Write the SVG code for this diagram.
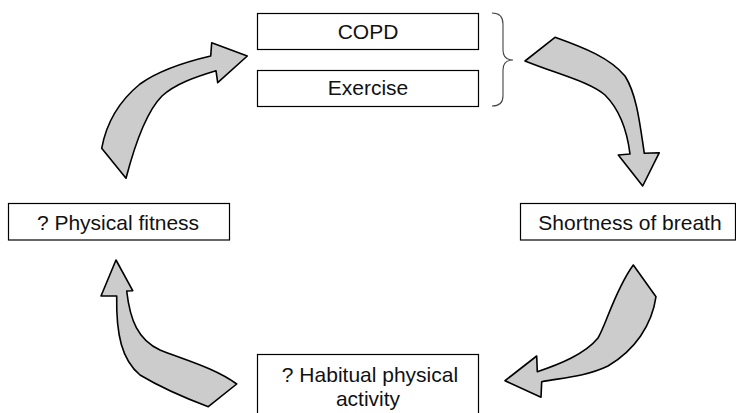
<svg xmlns="http://www.w3.org/2000/svg" width="736" height="413" viewBox="0 0 736 413">
<style>
.box{fill:#fff;stroke:#000;stroke-width:1.2}
.lbl{font-family:"Liberation Sans",Arial,Helvetica,sans-serif;font-size:21px;fill:#111;text-anchor:middle}
.arr{fill:#cccccc;stroke:#000;stroke-width:1.6;stroke-linejoin:round}
.brace{fill:none;stroke:#444;stroke-width:1.1}
</style>
<rect width="736" height="413" fill="#fff"/>
<g id="copd"><rect class="box" x="257.5" y="13.5" width="221" height="36"/><text class="lbl" x="368" y="39">COPD</text></g>
<g id="exercise"><rect class="box" x="257.5" y="70.5" width="221" height="36"/><text class="lbl" x="368" y="95">Exercise</text></g>
<g id="breath"><rect class="box" x="520.5" y="203.5" width="215" height="36.5"/><text class="lbl" x="630" y="229.5">Shortness of breath</text></g>
<g id="fitness"><rect class="box" x="8.5" y="203.5" width="221" height="36.5"/><text class="lbl" x="118" y="229.5">? Physical fitness</text></g>
<g id="habitual"><rect class="box" x="257.5" y="354.5" width="221" height="64"/><text class="lbl" x="370" y="382">? Habitual physical</text><text class="lbl" x="368" y="406">activity</text></g>
<g id="connectors">
<path class="brace" d="M492,13 Q503,13 503,24 L503,50 Q503,60 513,60 Q503,60 503,70 L503,96 Q503,106 492,106"/>
<path class="arr" d="M101.7,148.3 C106,125 118,102 140,84 C158,71 185,62 210.7,56 L211.7,42.7 L247.3,56 L217.7,82.7 L216,70.7 C195,77 175,84 162,96 C148,110 136,140 126,178.3 Z"/>
<path class="arr" d="M525,61 L555,37.3 C585,48 610,58 625,76 C637,95 640,125 644.3,153.3 L659.3,152.7 L642.7,186 L618.3,155 L630,154 C627,130 620,110 605,95 C590,82 560,75 525,61 Z"/>
<path class="arr" d="M633.3,265 L656,296.7 C652,325 635,350 608,366 C585,377 560,378 541.7,381.7 L541,397.3 L505,380.7 L536.7,356 L537.3,371.7 C560,364 585,354 598,338 C606,325 615,290 633.3,265 Z"/>
<path class="arr" d="M116,260 L132.7,290.7 L126.7,291 C130,320 138,340 160,350 C185,360 215,368 236.7,384 L208.3,406.7 C185,398 160,387 140,375 C122,360 116,335 116.7,296 L101,296 Z"/>
</g>
</svg>
